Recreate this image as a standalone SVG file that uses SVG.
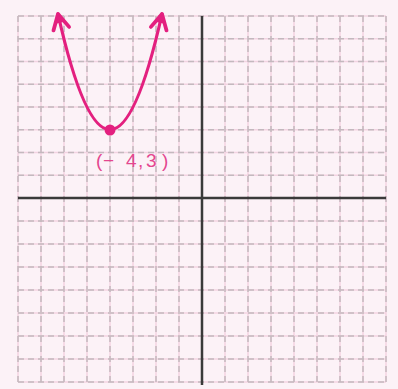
<svg xmlns="http://www.w3.org/2000/svg" width="398" height="389" viewBox="0 0 398 389">
  <defs>
    <style>
      .gp { stroke: #f3d3e2; stroke-width: 1.5; fill: none; }
      .gg { stroke: #c3b9be; stroke-width: 1.5; stroke-dasharray: 6 4; fill: none; }
      .axis { stroke: #3a3a3a; stroke-width: 2.5; fill: none; }
      .curve { stroke: #e3207f; stroke-width: 3.2; fill: none; stroke-linecap: round; }
      .lbl { font-family: "Liberation Sans", Arial, sans-serif; font-size: 19px; fill: #e4478f; }
    </style>
    <marker id="arr" markerUnits="userSpaceOnUse" markerWidth="40" markerHeight="40" viewBox="-20 -20 40 40" refX="0" refY="0" orient="auto-start-reverse">
      <path d="M -15 -8 L 0 0 L -15 8" fill="none" stroke="#e3207f" stroke-width="3.8" stroke-linejoin="round" stroke-linecap="round"/>
      <path d="M -9 -3.5 L 0 0 L -9 3.5 Z" fill="#e3207f"/>
    </marker>
  </defs>
  <rect width="398" height="389" fill="#fcf2f7"/>
  <g id="grid">
    <path class="gp" d="M18 16V382M41 16V382M64 16V382M87 16V382M110 16V382M133 16V382M156 16V382M179 16V382M225 16V382M248 16V382M271 16V382M294 16V382M317 16V382M340 16V382M363 16V382M386 16V382"/>
    <path class="gp" d="M18 16H386M18 38.75H386M18 61.5H386M18 84.25H386M18 107H386M18 129.75H386M18 152.5H386M18 175.25H386M18 221H386M18 244H386M18 267H386M18 290H386M18 313H386M18 336H386M18 359H386M18 382H386"/>
    <path class="gg" d="M18 16V382M41 16V382M64 16V382M87 16V382M110 16V382M133 16V382M156 16V382M179 16V382M225 16V382M248 16V382M271 16V382M294 16V382M317 16V382M340 16V382M363 16V382M386 16V382"/>
    <path class="gg" d="M18 16H386M18 38.75H386M18 61.5H386M18 84.25H386M18 107H386M18 129.75H386M18 152.5H386M18 175.25H386M18 221H386M18 244H386M18 267H386M18 290H386M18 313H386M18 336H386M18 359H386M18 382H386"/>
  </g>
  <g id="axes">
    <line class="axis" x1="18" y1="198" x2="386" y2="198"/>
    <line class="axis" x1="202" y1="16" x2="202" y2="385"/>
  </g>
  <g id="connectors">
    <path id="parabola" class="curve" d="M58 14 Q110 245.5 162 14" marker-start="url(#arr)" marker-end="url(#arr)"/>
  </g>
  <g id="vertex">
    <circle cx="110" cy="130" r="5.5" fill="#e3207f"/>
    <text class="lbl" x="96 103 114 126 138 146 162" y="167">(− 4,3)</text>
  </g>
</svg>
